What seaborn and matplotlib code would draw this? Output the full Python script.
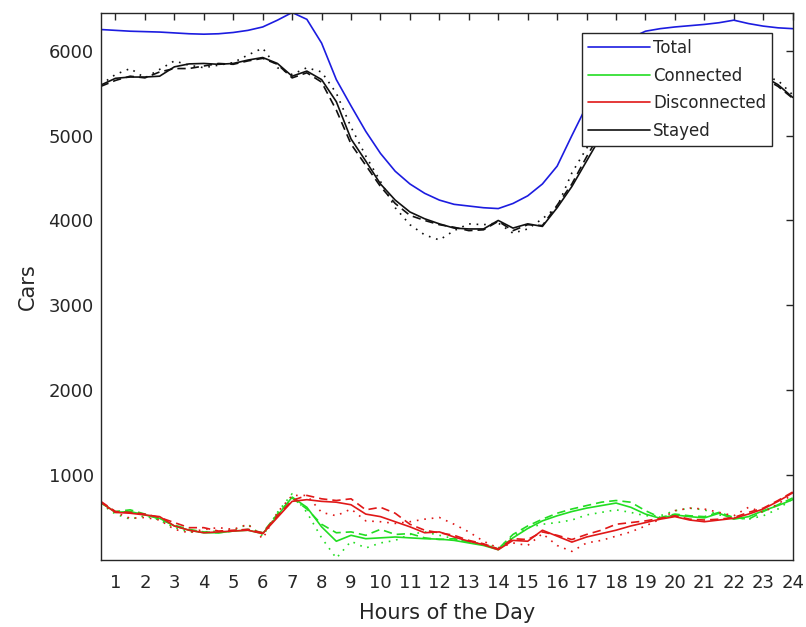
import numpy as np
import pandas as pd
import matplotlib
matplotlib.use("Agg")
import matplotlib.pyplot as plt
import seaborn as sns
from matplotlib.lines import Line2D

hours = [0.5, 1, 1.5, 2, 2.5, 3, 3.5, 4, 4.5, 5, 5.5, 6, 6.5, 7, 7.5, 8, 8.5, 9, 9.5, 10,
         10.5, 11, 11.5, 12, 12.5, 13, 13.5, 14, 14.5, 15, 15.5, 16, 16.5, 17, 17.5, 18,
         18.5, 19, 19.5, 20, 20.5, 21, 21.5, 22, 22.5, 23, 23.5, 24]

total = [6250, 6240, 6230, 6225, 6220, 6210, 6200, 6195, 6200, 6215, 6240, 6280, 6360, 6450,
         6370, 6090, 5660, 5350, 5050, 4790, 4580, 4430, 4320, 4240, 4190, 4170, 4150, 4140,
         4200, 4290, 4430, 4640, 5000, 5350, 5700, 5980, 6150, 6230, 6260, 6280, 6295, 6310,
         6330, 6360, 6320, 6290, 6270, 6260]

connected = [680, 560, 570, 530, 490, 400, 350, 320, 320, 340, 350, 310, 520, 740, 620, 390,
             220, 290, 250, 260, 270, 260, 250, 245, 230, 200, 170, 120, 260, 370, 460, 520,
             570, 610, 640, 670, 620, 540, 490, 530, 510, 495, 550, 480, 510, 580, 640, 710]
connected_dash = [670, 570, 590, 540, 480, 410, 360, 330, 320, 340, 360, 320, 540, 730, 600,
                  420, 320, 330, 290, 360, 300, 310, 260, 240, 250, 210, 180, 130, 300, 400,
                  480, 550, 600, 640, 680, 700, 680, 580, 500, 540, 520, 510, 560, 500, 480,
                  570, 650, 730]
connected_dot = [660, 540, 480, 520, 470, 380, 330, 330, 340, 350, 420, 280, 560, 780, 560,
                 260, 20, 220, 140, 200, 230, 300, 330, 290, 250, 220, 180, 140, 280, 380, 420,
                 440, 470, 530, 560, 590, 560, 520, 520, 580, 610, 590, 530, 500, 480, 520,
                 600, 720]

disconnected = [680, 560, 550, 530, 510, 400, 350, 320, 330, 340, 350, 310, 500, 690, 710, 690,
                680, 650, 540, 510, 450, 390, 320, 330, 270, 220, 180, 120, 230, 220, 350, 280,
                210, 270, 310, 350, 400, 440, 480, 510, 470, 450, 470, 490, 540, 600, 690, 790]
disconnected_dash = [690, 570, 560, 540, 500, 440, 380, 380, 340, 350, 360, 320, 520, 700, 760,
                     720, 700, 720, 590, 620, 550, 420, 350, 320, 290, 230, 190, 130, 250, 240,
                     330, 290, 240, 300, 350, 420, 440, 460, 490, 520, 480, 470, 480, 500, 560,
                     610, 700, 800]
disconnected_dot = [660, 560, 490, 500, 470, 360, 320, 360, 380, 360, 420, 250, 560, 760, 760,
                    560, 520, 600, 460, 450, 430, 450, 480, 500, 420, 330, 220, 140, 200, 170,
                    310, 170, 100, 200, 230, 280, 330, 400, 480, 580, 610, 600, 560, 520, 620,
                    560, 660, 770]

stayed = [5595, 5675, 5690, 5690, 5700, 5810, 5845, 5850, 5840, 5850, 5890, 5920, 5850, 5700,
          5760, 5660, 5400, 4960, 4700, 4430, 4240, 4100, 4020, 3960, 3910, 3900, 3900, 4000,
          3910, 3960, 3930, 4150, 4400, 4700, 5000, 5350, 5550, 5680, 5730, 5760, 5770, 5790,
          5800, 5820, 5780, 5700, 5600, 5450]
stayed_dash = [5580, 5650, 5700, 5680, 5750, 5790, 5790, 5820, 5850, 5840, 5880, 5910, 5840,
               5680, 5740, 5630, 5300, 4900, 4650, 4400, 4200, 4060, 4000, 3950, 3920, 3880,
               3890, 3990, 3880, 3950, 3940, 4180, 4430, 4750, 5050, 5380, 5560, 5690, 5720,
               5750, 5760, 5780, 5790, 5810, 5760, 5680, 5580, 5440]
stayed_dot = [5600, 5720, 5790, 5680, 5780, 5880, 5830, 5800, 5830, 5860, 5950, 6030, 5800,
              5720, 5800, 5750, 5500, 5100, 4760, 4460, 4150, 3950, 3830, 3770, 3880, 3960,
              3950, 3970, 3850, 3900, 4020, 4160, 4560, 4850, 5100, 5400, 5580, 5680, 5750,
              5800, 5800, 5830, 5800, 5800, 5760, 5700, 5650, 5480]

xticks = list(range(1, 25))
yticks = [1000, 2000, 3000, 4000, 5000, 6000]
legend_labels = ["Total", "Connected", "Disconnected", "Stayed"]

sns.set_theme(style="white")
plt.rcParams["font.family"] = ["DejaVu Sans"]

BLUE = "#1c1ce0"
GREEN = "#22dd22"
RED = "#e01818"
BLACK = "#111111"
DASH = (0, (5, 3))
DOT = (0, (1, 3.5))

fig = plt.figure(figsize=(8.06, 6.27), dpi=100)
ax = fig.add_axes([0.125, 0.107, 0.8585, 0.873])

series = [
    (connected_dot, GREEN, DOT), (connected_dash, GREEN, DASH), (connected, GREEN, "-"),
    (disconnected_dot, RED, DOT), (disconnected_dash, RED, DASH), (disconnected, RED, "-"),
    (stayed_dot, BLACK, DOT), (stayed_dash, BLACK, DASH), (stayed, BLACK, "-"),
    (total, BLUE, "-"),
]
for vals, col, ls in series:
    df = pd.DataFrame({"h": hours, "v": vals})
    sns.lineplot(data=df, x="h", y="v", color=col, linestyle=ls, linewidth=1.2, ax=ax)

ax.set_xlim(0.5, 24)
ax.set_ylim(0, 6450)
ax.set_xticks(xticks)
ax.set_yticks(yticks)
ax.tick_params(direction="in", length=5, width=1, top=True, right=True,
               labelsize=13, colors="#262626")
ax.tick_params(axis="x", pad=10)
ax.tick_params(axis="y", pad=5)
for s in ax.spines.values():
    s.set_color("#262626")
    s.set_linewidth(1)
ax.set_xlabel("Hours of the Day", fontsize=15, color="#262626", labelpad=8)
ax.set_ylabel("Cars", fontsize=15, color="#262626", labelpad=8)

handles = [Line2D([0], [0], color=c, lw=1.2) for c in [BLUE, GREEN, RED, BLACK]]
leg = ax.legend(handles, legend_labels, loc="upper right", bbox_to_anchor=(0.970, 0.9626),
                borderaxespad=0, fontsize=12, frameon=True, fancybox=False,
                handlelength=3.75, handletextpad=0.15, labelspacing=0.58, borderpad=0.35)
leg.get_frame().set_edgecolor("#262626")
leg.get_frame().set_linewidth(1)
leg.get_frame().set_alpha(1)

fig.savefig("out.png", dpi=100)
